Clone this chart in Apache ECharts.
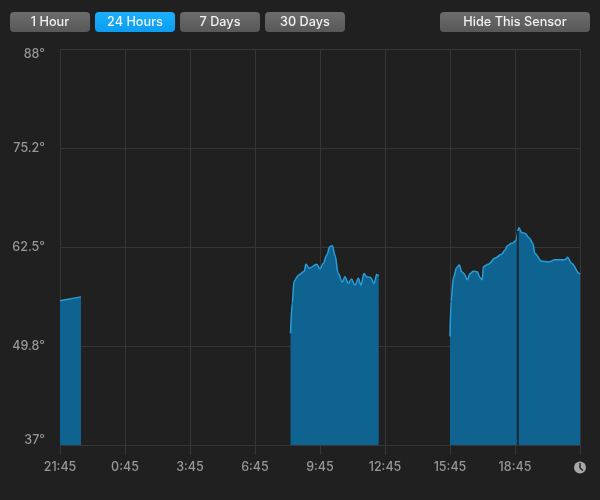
<!DOCTYPE html>
<html>
<head>
<meta charset="utf-8">
<style>html,body{margin:0;padding:0;background:#202020}#c{width:600px;height:500px}</style>
<script src="https://cdn.jsdelivr.net/npm/echarts@6/dist/echarts.min.js"></script>
</head>
<body>
<div id="c"></div>
<script>
const xLabels = ['21:45','0:45','3:45','6:45','9:45','12:45','15:45','18:45',''];
const yLabels = ['37°','49.8°','62.5°','75.2°','88°'];
const buttons = ['1 Hour','24 Hours','7 Days','30 Days','Hide This Sensor'];
const hours = [0,0.97,null,
 10.64,10.72,10.8,11,11.275,11.35,11.505,11.85,12,12.15,12.31,12.46,12.57,12.69,12.845,13.03,13.15,13.305,13.46,13.615,13.77,13.89,14.03,14.155,14.34,14.49,14.62,14.71,null,
 18,18.05,18.15,18.31,18.43,18.54,18.65,18.8,18.92,19.08,19.26,19.38,19.49,19.54,19.77,20.08,20.38,20.54,20.65,20.85,21.03,21.18,21.31,21.46,21.66,21.82,21.92,22.23,22.54,22.85,23.31,23.43,23.62,23.97,24];
const temps = [55.6,56.1,null,
 51.4,55.3,58.1,58.9,59.4,60.3,59.8,60.3,59.7,60.4,61.5,62.6,62.7,61.5,59.1,58,58.7,57.85,58.4,57.6,58.5,57.6,59.1,58.7,58.6,57.8,59,58.8,null,
 51,55.5,58.5,59.9,60.2,59.35,59.1,58.3,59.1,59.4,59.35,58.6,58.3,60,60.3,61.1,61.6,62.15,62.7,63,63.3,65,64.4,64.3,63.7,63,61.7,60.7,60.6,60.9,60.9,61.2,60.4,59.1,59];
const cursorHours = [21.13,21.13];
const cursorTemps = [37,64.6];

const font = 'Inter, Roboto, "Liberation Sans", sans-serif';
const btnX = [10,95,180,265,440];
const btnW = [80,80,80,80,150];
const chart = echarts.init(document.getElementById('c'), null, {renderer:'canvas'});
const btnGraphics = buttons.map((t,i)=>({
  type:'group', left:btnX[i], top:12, z:10,
  children:[
    {type:'rect', z:10, shape:{x:0,y:0,width:btnW[i],height:20,r:4},
     style:{fill:i===1?new echarts.graphic.LinearGradient(0,0,0,1,[{offset:0,color:'#1cb0fb'},{offset:1,color:'#0a9df2'}])
       :new echarts.graphic.LinearGradient(0,0,0,1,[{offset:0,color:'#6c6c6c'},{offset:1,color:'#585858'}])}},
    {type:'text', z:11, x:btnW[i]/2, y:10,
     style:{text:t,fill:'#f2f2f2',font:'500 12.7px '+font,align:'center',verticalAlign:'middle'}}
  ]
}));
chart.setOption({
  backgroundColor:'#202020',
  animation:false,
  grid:{left:60,right:20,top:49.5,bottom:55},
  xAxis:{type:'value',min:0,max:24,interval:3,
    axisLine:{show:false},
    axisTick:{show:true,length:10,lineStyle:{color:'#363636'}},
    axisLabel:{color:'#979797',fontFamily:font,fontSize:12.5,fontWeight:500,margin:16,
      formatter:v=>xLabels[Math.round(v/3)]},
    splitLine:{show:true,lineStyle:{color:'#363636',width:1}}},
  yAxis:{type:'value',min:37,max:88,interval:12.75,
    axisLine:{show:false},axisTick:{show:false},
    axisLabel:{color:'#979797',fontFamily:font,fontSize:12.5,fontWeight:500,margin:15,lineHeight:9,
      verticalAlignMinLabel:'bottom',verticalAlignMaxLabel:'top',
      formatter:v=>yLabels[Math.round((v-37)/12.75)]},
    splitLine:{show:true,lineStyle:{color:'#363636',width:1}}},
  series:[
    {type:'line',data:hours.map((h,i)=>h===null?[null,null]:[h,temps[i]]),
     showSymbol:false,connectNulls:false,smooth:0.35,smoothMonotone:'x',
     lineStyle:{color:'#2a9ed8',width:1.5},
     areaStyle:{color:'#0f6391',opacity:1,origin:'start'}},
    {type:'line',data:cursorHours.map((h,i)=>[h,cursorTemps[i]]),
     showSymbol:false,lineStyle:{color:'#1b2832',width:2},z:5}
  ],
  graphic:btnGraphics.concat([
    {type:'circle',shape:{cx:580,cy:467.5,r:6},style:{fill:'#a8a8a8'},z:10},
    {type:'polyline',shape:{points:[[580,463],[580,468],[583,470.5]]},style:{stroke:'#202020',lineWidth:1.4,fill:null},z:11}
  ])
});
</script>
</body>
</html>
